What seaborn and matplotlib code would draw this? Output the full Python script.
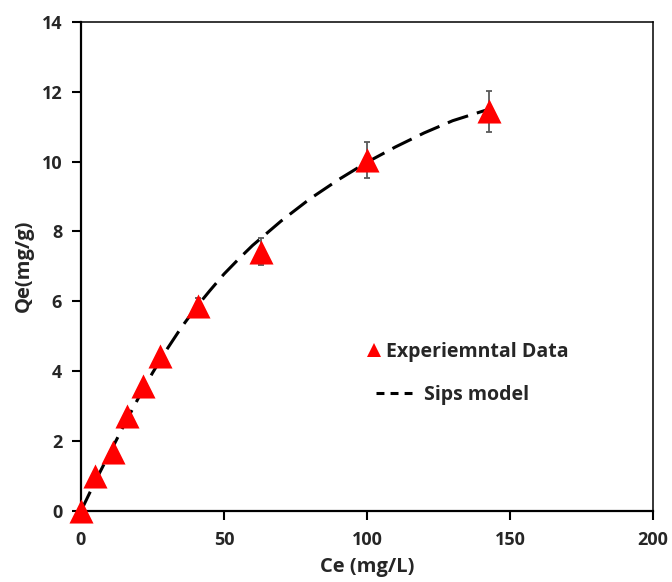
import matplotlib
matplotlib.use("Agg")
import matplotlib.pyplot as plt
import seaborn as sns
import pandas as pd
from matplotlib.lines import Line2D

# Experimental data
ce = [0, 4.9, 11.2, 16.0, 21.8, 27.6, 40.8, 63.0, 99.9, 142.7]
qe = [0, 0.99, 1.70, 2.71, 3.57, 4.44, 5.87, 7.42, 10.04, 11.44]
qe_err = [0, 0.03, 0.04, 0.05, 0.06, 0.08, 0.22, 0.38, 0.51, 0.59]

# Sips model curve
model_ce = [0, 5, 10, 15, 20, 25, 30, 35, 40, 45, 50, 55, 60, 70, 80, 90, 100, 110, 120, 130, 142.7]
model_qe = [0, 0.85, 1.65, 2.45, 3.22, 3.95, 4.62, 5.24, 5.8, 6.3, 6.78, 7.2, 7.6, 8.3, 8.93, 9.48, 9.98, 10.42, 10.82, 11.17, 11.5]

x_ticks = [0, 50, 100, 150, 200]
y_ticks = [0, 2, 4, 6, 8, 10, 12, 14]

sns.set_theme(style="white")
plt.rcParams['font.family'] = ['Open Sans', 'DejaVu Sans']

W, H = 672, 582
fig = plt.figure(figsize=(W / 100, H / 100), dpi=100)
ax = fig.add_axes([0.1205, 0.122, 0.851, 0.8405])

df = pd.DataFrame({"Ce": ce, "Qe": qe})
dm = pd.DataFrame({"Ce": model_ce, "Qe": model_qe})

ax.errorbar(ce, qe, yerr=qe_err, fmt='none', ecolor='#595959', elinewidth=1.3,
            capsize=2.5, capthick=1.3, zorder=2)
sns.lineplot(data=dm, x="Ce", y="Qe", ax=ax, color='black', linewidth=2.2,
             dashes=False, zorder=3, sort=False)
ax.lines[-1].set_dashes((7.0, 3.0))
sns.scatterplot(data=df, x="Ce", y="Qe", ax=ax, marker='^', s=300, color='#ff0000',
                linewidth=0, zorder=4, clip_on=False)

ax.set_xlim(0, 200)
ax.set_ylim(0, 14)
ax.set_xticks(x_ticks)
ax.set_yticks(y_ticks)
ax.set_xticklabels([str(t) for t in x_ticks], fontsize=13, fontweight='bold')
ax.set_yticklabels([str(t) for t in y_ticks], fontsize=13, fontweight='bold')
ax.tick_params(axis='both', direction='out', length=6.5, width=1.5, color='black',
               bottom=True, left=True)
ax.tick_params(axis='y', pad=7)
ax.tick_params(axis='x', pad=8)

for side in ['left', 'bottom', 'right', 'top']:
    ax.spines[side].set_color('black')
ax.spines['left'].set_linewidth(1.6)
ax.spines['bottom'].set_linewidth(1.6)
ax.spines['right'].set_linewidth(1.1)
ax.spines['top'].set_linewidth(1.1)

ax.set_xlabel("Ce (mg/L)", fontsize=14.5, fontweight='bold')
ax.set_ylabel("Qe(mg/g)", fontsize=14.5, fontweight='bold')
ax.xaxis.set_label_coords(367 / W, 1 - 557 / H, transform=fig.transFigure)
ax.yaxis.set_label_coords(34 / W, 1 - 266 / H, transform=fig.transFigure)

fs = 14
h1 = Line2D([0], [0], marker='^', color='none', markerfacecolor='#ff0000',
            markeredgewidth=0, markersize=10)
leg1 = ax.legend([h1], ["Experiemntal Data"], frameon=False, loc='center left',
                 bbox_to_anchor=(364 / W, 1 - 352 / H), bbox_transform=fig.transFigure,
                 handlelength=1.0, handletextpad=0.15, borderpad=0, borderaxespad=0,
                 prop={'weight': 'bold', 'size': fs})
ax.add_artist(leg1)
h2 = Line2D([0], [0], color='black', linewidth=2.2, dashes=(2.6, 2.0))
ax.legend([h2], ["Sips model"], frameon=False, loc='center left',
          bbox_to_anchor=(376 / W, 1 - 395 / H), bbox_transform=fig.transFigure,
          handlelength=1.86, handletextpad=0.62, borderpad=0, borderaxespad=0,
          prop={'weight': 'bold', 'size': fs})

fig.savefig("out.png", dpi=100)
